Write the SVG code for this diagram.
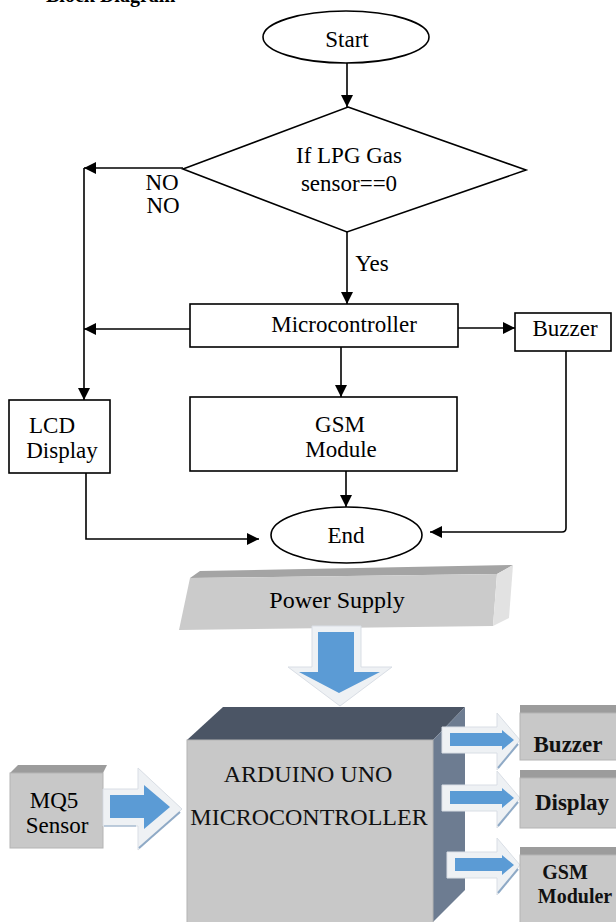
<svg xmlns="http://www.w3.org/2000/svg" width="616" height="922" viewBox="0 0 616 922">
<defs>
<style>
.ln{stroke:#000;stroke-width:1.6;fill:none}
.shp{stroke:#000;stroke-width:1.6;fill:#fff}
.t{font-family:"Liberation Serif","Times New Roman",serif;font-size:23px;fill:#000;text-anchor:middle}
.tb{font-family:"Liberation Serif","Times New Roman",serif;font-size:23px;font-weight:bold;fill:#111;text-anchor:middle}
.ta{font-family:"Liberation Serif","Times New Roman",serif;font-size:24px;fill:#111;text-anchor:middle}
.front{fill:#c8c8c8;stroke:#b4b4b4;stroke-width:1}
.glow{fill:#eef1f4;stroke:#d9dee5;stroke-width:1}
.blue{fill:#5b9bd5}
.shadow{stroke:#8faac6;stroke-width:2;fill:none}
</style>
<marker id="ah" viewBox="0 0 12 12" refX="12" refY="6" markerWidth="12" markerHeight="12" markerUnits="userSpaceOnUse" orient="auto">
<path d="M0,0 L12,6 L0,12 z" fill="#000"/>
</marker>
</defs>
<rect width="616" height="922" fill="#fff"/>
<text x="46" y="2" style="font-family:'Liberation Serif',serif;font-size:20px;font-weight:bold">Block Diagram</text>

<g id="connectors">
<path class="ln" d="M347,63 V107" marker-end="url(#ah)"/>
<path class="ln" d="M183,168 H84" marker-end="url(#ah)"/>
<path class="ln" d="M84,168 V400" marker-end="url(#ah)"/>
<path class="ln" d="M347,231 V304" marker-end="url(#ah)"/>
<path class="ln" d="M190,329 H84" marker-end="url(#ah)"/>
<path class="ln" d="M458,328 H515" marker-end="url(#ah)"/>
<path class="ln" d="M341,347 V397" marker-end="url(#ah)"/>
<path class="ln" d="M86,473 V539 H259" marker-end="url(#ah)"/>
<path class="ln" d="M346,471 V507" marker-end="url(#ah)"/>
<path class="ln" d="M566,351 V528 Q566,532 562,532 H430" marker-end="url(#ah)"/>
</g>

<g id="start">
<ellipse class="shp" cx="346" cy="37" rx="83" ry="26"/>
<text class="t" x="347" y="47">Start</text>
</g>

<g id="decision">
<polygon class="shp" points="348,107 526,170 347,232 183,169"/>
<text class="t" x="349" y="163">If LPG Gas</text>
<text class="t" x="349" y="191">sensor==0</text>
</g>

<g id="labels">
<text class="t" x="162" y="190">NO</text>
<text class="t" x="163" y="213">NO</text>
<text class="t" x="372" y="271">Yes</text>
</g>

<g id="microcontroller">
<rect class="shp" x="190" y="304" width="268" height="43"/>
<text class="t" x="344" y="332">Microcontroller</text>
</g>

<g id="buzzer">
<rect class="shp" x="515" y="313" width="96" height="38"/>
<text class="t" x="565" y="336">Buzzer</text>
</g>

<g id="lcd">
<rect class="shp" x="9" y="400" width="101" height="73"/>
<text class="t" x="52" y="433">LCD</text>
<text class="t" x="62" y="458">Display</text>
</g>

<g id="gsm">
<rect class="shp" x="190" y="397" width="267" height="74"/>
<text class="t" x="340" y="432">GSM</text>
<text class="t" x="341" y="457">Module</text>
</g>

<g id="end">
<ellipse class="shp" cx="346.5" cy="535" rx="75.5" ry="28"/>
<text class="t" x="346" y="543">End</text>
</g>

<g id="power-supply">
<polygon fill="#a4a4a4" points="190,578 200,571 513,565 497,574"/>
<polygon fill="#cbcbcb" points="190,578 497,574 493,626 179,630"/>
<polygon fill="#e2e2e2" points="497,574 513,565 509,618 493,626"/>
<text class="t" x="337" y="608" style="font-size:24px">Power Supply</text>
</g>

<g id="power-arrow">
<polygon class="glow" points="312,626 361,626 361,667 392,667 340,706 288,667 312,667"/>
<polygon class="blue" points="318,632 354,632 354,672 380,672 339,693 299,672 318,672"/>
</g>

<g id="arduino">
<polygon fill="#4b5565" points="187,740 223,707 465,707 433,740"/>
<polygon fill="#6d7c91" points="433,740 465,707 465,890 433,922"/>
<rect class="front" x="187" y="740" width="246" height="190"/>
<text class="ta" x="308" y="782">ARDUINO UNO</text>
<text class="ta" x="309" y="825">MICROCONTROLLER</text>
</g>

<g id="mq5">
<polygon fill="#9c9c9c" points="18,765 107,765 103,773 10,773"/>
<rect class="front" x="10" y="773" width="93" height="75"/>
<text class="t" x="54" y="808">MQ5</text>
<text class="t" x="57" y="833">Sensor</text>
</g>

<g id="mq5-arrow">
<polygon class="glow" points="103,789 138,789 138,768 182,809 138,850 138,826 103,826"/>
<polygon class="blue" points="110,795 144,795 144,785 170,807 144,829 144,818 110,818"/>
<path class="shadow" d="M139,848 L180,812"/>
<path class="shadow" d="M104,826 H136" stroke-opacity="0.5"/>
</g>

<g id="out-arrows">
<g>
<polygon class="glow" points="442,727 497,727 497,713 520,740 497,770 497,753 442,753"/>
<polygon class="blue" points="450,733 502,733 502,730 514,740 502,750 502,746 450,746"/>
<path class="shadow" d="M498,768 L518,744"/>
</g>
<g>
<polygon class="glow" points="442,785 497,785 497,771 520,798 497,828 497,811 442,811"/>
<polygon class="blue" points="450,791 502,791 502,788 514,798 502,808 502,804 450,804"/>
<path class="shadow" d="M498,826 L518,802"/>
</g>
<g>
<polygon class="glow" points="447,852 497,852 497,838 520,865 497,895 497,878 447,878"/>
<polygon class="blue" points="455,858 502,858 502,855 514,865 502,875 502,871 455,871"/>
<path class="shadow" d="M498,893 L518,869"/>
</g>
</g>

<g id="buzzer-out">
<polygon fill="#9c9c9c" points="520,705 616,705 616,713 520,713"/>
<rect class="front" x="520" y="713" width="100" height="47"/>
<text class="tb" x="568" y="752">Buzzer</text>
</g>
<g id="display-out">
<polygon fill="#9c9c9c" points="520,770 616,770 616,778 520,778"/>
<rect class="front" x="520" y="778" width="100" height="50"/>
<text class="tb" x="572" y="810">Display</text>
</g>
<g id="gsm-out">
<polygon fill="#9c9c9c" points="520,847 616,847 616,855 520,855"/>
<rect class="front" x="520" y="855" width="100" height="70"/>
<text class="tb" x="565" y="879" style="font-size:20px">GSM</text>
<text class="tb" x="575" y="903" style="font-size:20px">Moduler</text>
</g>
</svg>
